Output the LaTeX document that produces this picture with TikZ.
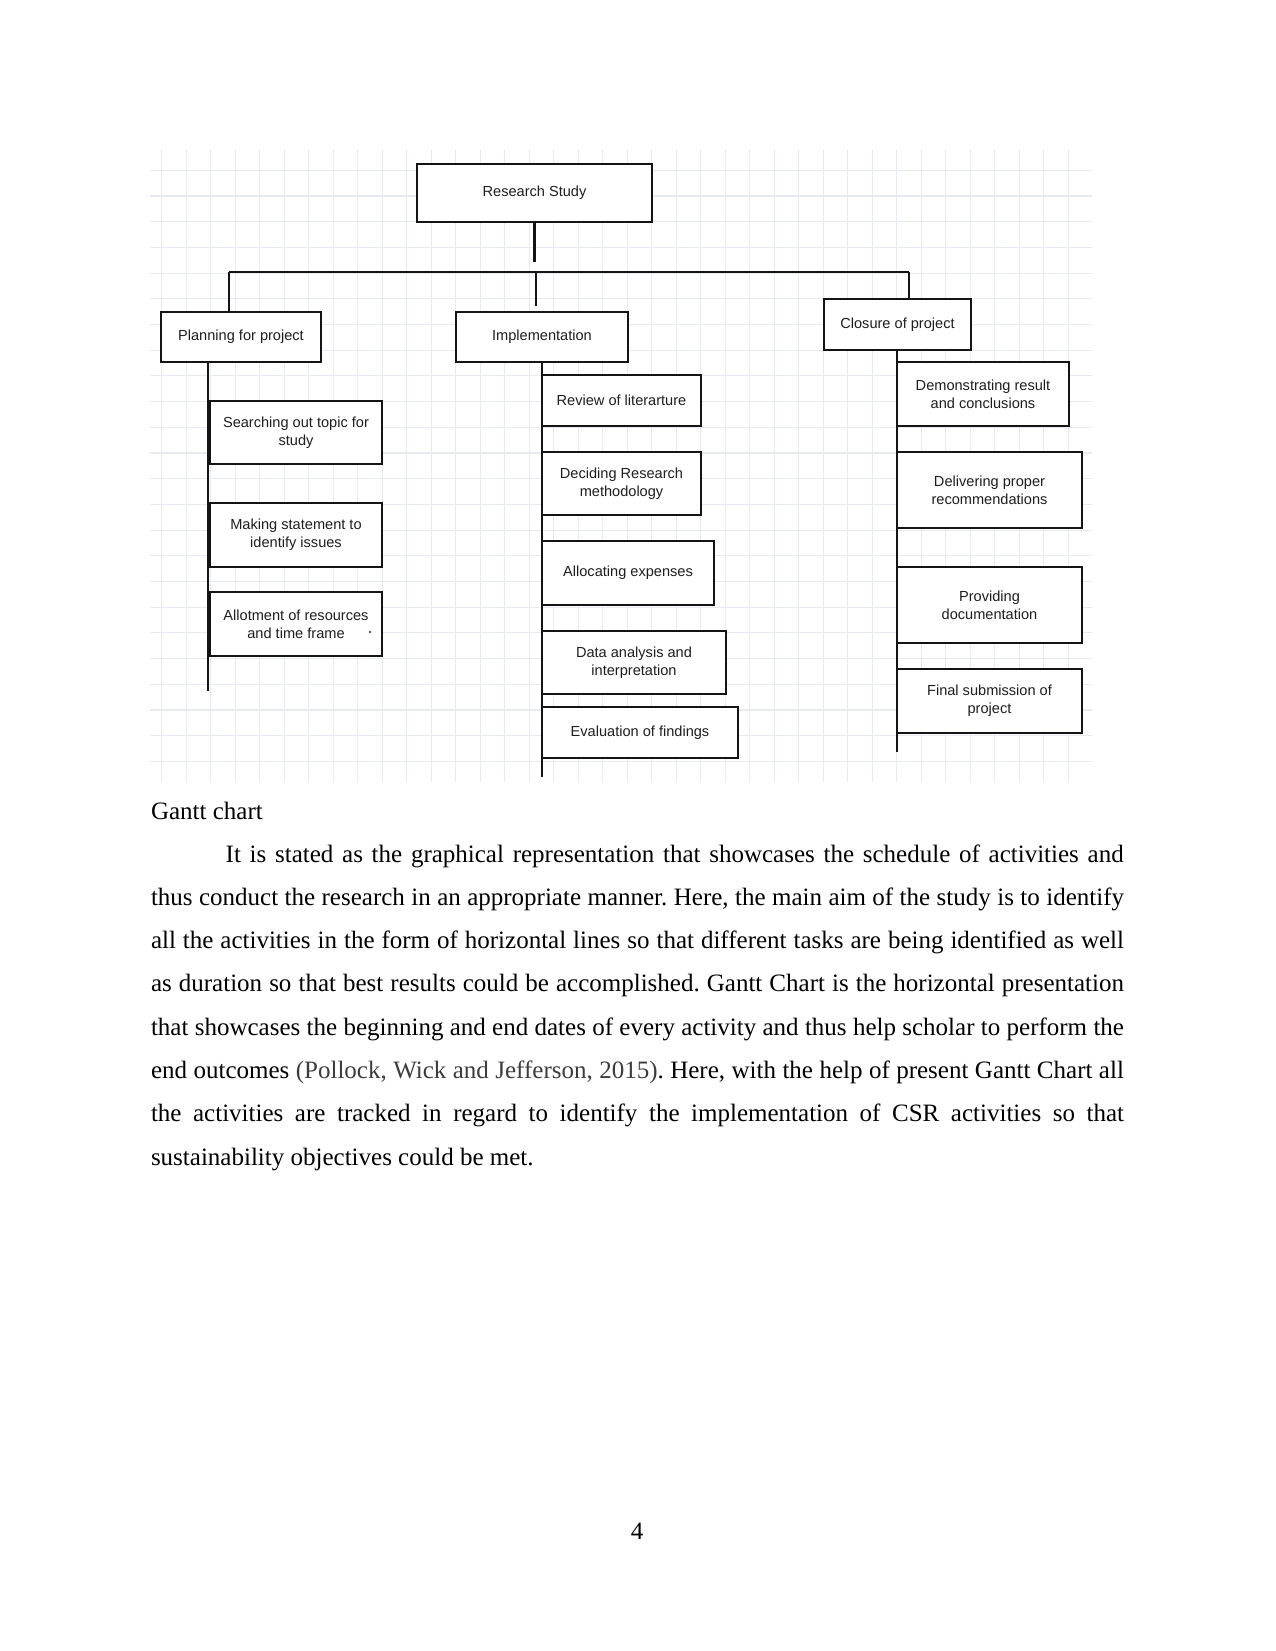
\documentclass[tikz,border=0pt]{standalone}
\usepackage{fontspec}
\setmainfont{Liberation Serif}
\newfontfamily\arialf{Liberation Sans}
\definecolor{gridc}{RGB}{231,234,241}
\definecolor{boxtxt}{RGB}{30,30,30}
\definecolor{citec}{RGB}{60,60,60}
\definecolor{linec}{RGB}{20,20,20}
\newcommand\wbsbox[6]{\node[wbs, minimum width={(#4-#2)*0.48pt}, minimum height={(#5-#3)*0.48pt}] (#1) at ({(#2+#4)/2},{(#3+#5)/2}) {#6};}
\frenchspacing
\begin{document}
\begin{tikzpicture}[x=0.48pt,y=-0.48pt,
  wbs/.style={draw=linec, line width=0.9pt, fill=white, inner sep=0pt, align=center, text=boxtxt,
    font=\arialf\fontsize{7pt}{8.64pt}\selectfont},
  conn/.style={draw=linec, line width=1.3pt},
  body/.style={inner sep=0pt, anchor=base west, font=\fontsize{12pt}{14pt}\selectfont},
  gridline/.style={draw=gridc, line width=0.5pt}]
\useasboundingbox (0,0) rectangle (1275,1651);
% background grid
\foreach \i in {0,...,37} \draw[gridline] ({161.7+24.5*\i},150) -- ({161.7+24.5*\i},782);
\foreach \j in {0,...,23} \draw[gridline] (150,{170.3+25.7*\j}) -- (1092,{170.3+25.7*\j});
% boxes
\wbsbox{rs}{417}{164}{652}{222}{Research Study}
\wbsbox{plan}{161}{312}{321}{362}{Planning for project}
\wbsbox{impl}{456}{312}{628}{362}{Implementation}
\wbsbox{clos}{824}{299}{971}{350}{Closure of project}
\wbsbox{s1}{210}{401}{382}{464}{Searching out topic for\\study}
\wbsbox{s2}{210}{503}{382}{567}{Making statement to\\identify issues}
\wbsbox{s3}{210}{592}{382}{656}{Allotment of resources\\and time frame}
\wbsbox{i1}{542}{375}{701}{426}{Review of literarture}
\wbsbox{i2}{542}{452}{701}{515}{Deciding Research\\methodology}
\wbsbox{i3}{542}{541}{714}{605}{Allocating expenses}
\wbsbox{i4}{542}{631}{726}{694}{Data analysis and\\interpretation}
\wbsbox{i5}{542}{707}{738}{758}{Evaluation of findings}
\wbsbox{c1}{897}{362}{1069}{426}{Demonstrating result\\and conclusions}
\wbsbox{c2}{897}{452}{1082}{528}{Delivering proper\\recommendations}
\wbsbox{c3}{897}{567}{1082}{643}{Providing\\documentation}
\wbsbox{c4}{897}{669}{1082}{733}{Final submission of\\project}
\fill[boxtxt] (370,632) circle (1.2);
% connector coordinates
\coordinate (rsend) at (534.5,262);
\coordinate (busL) at (229,272);
\coordinate (busR) at (909,272);
\coordinate (busM) at (536,272);
\coordinate (implstub) at (536,306);
\coordinate (planend) at (208,691);
\coordinate (implend) at (542,777);
\coordinate (closend) at (897,752);
% connectors
\draw[conn] (rs.south) -- (rsend);
\draw[conn] (busL) -- (busR);
\draw[conn] (busL) -- (busL |- plan.north);
\draw[conn] (busM) -- (implstub);
\draw[conn] (busR) -- (busR |- clos.north);
\draw[conn] (plan.south -| planend) -- (planend);
\draw[conn] (impl.south -| implend) -- (implend);
\draw[conn] (clos.south -| closend) -- (closend);
% text
\node[body] (h) at (150.6,819.3) {Gantt chart};
\node[body] (l1) at (225.3,862) {\makebox[431pt][s]{It is stated as the graphical representation that showcases the schedule of activities and}};
\node[body] (l2) at (150.6,905.3) {\makebox[467pt][s]{thus conduct the research in an appropriate manner. Here, the main aim of the study is to identify}};
\node[body] (l3) at (150.6,948.6) {\makebox[467pt][s]{all the activities in the form of horizontal lines so that different tasks are being identified as well}};
\node[body] (l4) at (150.6,991.9) {\makebox[467pt][s]{as duration so that best results could be accomplished. Gantt Chart is the horizontal presentation}};
\node[body] (l5) at (150.6,1035.2) {\makebox[467pt][s]{that showcases the beginning and end dates of every activity and thus help scholar to perform the}};
\node[body] (l6) at (150.6,1078.5) {\makebox[467pt][s]{end outcomes {\color{citec}(Pollock, Wick and Jefferson, 2015)}. Here, with the help of present Gantt Chart all}};
\node[body] (l7) at (150.6,1121.8) {\makebox[467pt][s]{the activities are tracked in regard to identify the implementation of CSR activities so that}};
\node[body] (l8) at (150.6,1165) {sustainability objectives could be met.};
\node[inner sep=0pt, anchor=base, font=\fontsize{12pt}{14pt}\selectfont] (pg) at (637,1539) {4};
\end{tikzpicture}
\end{document}
